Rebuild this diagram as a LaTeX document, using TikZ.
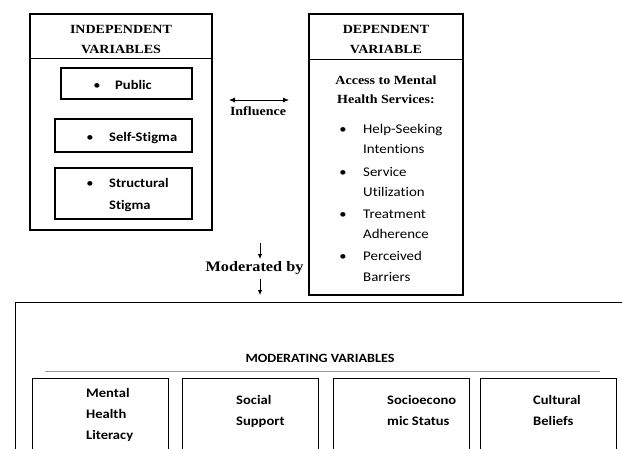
\documentclass[tikz,border=0pt]{standalone}
\usepackage{fontspec}
\setmainfont{Liberation Serif}
\newfontfamily\tmsb[FakeStretch=1.12]{Liberation Serif Bold}
\newfontfamily\calb[FakeStretch=1.12, RawFeature=-liga]{Carlito Bold}
\newfontfamily\calr[FakeStretch=1.12, RawFeature=-liga]{Carlito}
\usetikzlibrary{arrows.meta}
\begin{document}
\begin{tikzpicture}[x=1pt,y=-1pt,
  box/.style={draw=black, line width=1.1pt, inner sep=0pt, rectangle},
  hd/.style={font=\tmsb\fontsize{12.5}{14}\selectfont, inner sep=0pt, anchor=base},
  bigt/.style={font=\tmsb\fontsize{14.5}{16}\selectfont, inner sep=0pt, anchor=base},
  cb/.style={font=\calb\fontsize{13}{15}\selectfont, inner sep=0pt, anchor=base west},
  cr/.style={font=\calr\fontsize{13.3}{15}\selectfont, inner sep=0pt, anchor=base west},
  mb/.style={font=\calb\fontsize{13}{15}\selectfont, inner sep=0pt, anchor=base west},
  bul/.style={font=\calr\fontsize{13}{15}\selectfont, inner sep=0pt, anchor=base},
  conn/.style={line width=0.8pt, -{Latex[length=5pt,width=4.5pt]}},
  biconn/.style={line width=0.8pt, {Latex[length=6pt,width=5pt]}-{Latex[length=6pt,width=5pt]}}
]
\useasboundingbox (0,0) rectangle (622,448);
\clip (0,0) rectangle (622,448);

% Independent variables
\node[box, minimum width=182pt, minimum height=216pt] (indep) at (121,122) {};
\coordinate (ihl) at (30,58);
\coordinate (ihr) at (212,58);
\draw[line width=0.6pt] (ihl) -- (ihr);
\node[hd] (indt1) at (121,33.5) {INDEPENDENT};
\node[hd] (indt2) at (121,53.5) {VARIABLES};

\node[box, minimum width=131pt, minimum height=31pt] (pub) at (126.5,83.5) {};
\node[bul] (pubb) at (97,89) {•};
\node[cb] (pubt) at (115,89) {Public};

\node[box, minimum width=137pt, minimum height=33pt] (self) at (123.5,135.5) {};
\node[bul] (selfb) at (90,141) {•};
\node[cb] (selft) at (109,141) {Self-Stigma};

\node[box, minimum width=137pt, minimum height=51pt] (struc) at (123.5,193.5) {};
\node[bul] (strucb) at (90,187) {•};
\node[cb] (struct1) at (109,187) {Structural};
\node[cb] (struct2) at (109,209) {Stigma};

% Influence
\coordinate (ia) at (229,100);
\coordinate (ib) at (289,100);
\draw[biconn] (ia) -- (ib);
\node[hd] (infl) at (258,115) {Influence};

% Dependent variable
\node[box, minimum width=154pt, minimum height=281pt] (dep) at (386,154.5) {};
\coordinate (dhl) at (309,59);
\coordinate (dhr) at (463,59);
\draw[line width=0.6pt] (dhl) -- (dhr);
\node[hd] (dept1) at (386,33.5) {DEPENDENT};
\node[hd] (dept2) at (386,53.5) {VARIABLE};
\node[hd] (acc1) at (386,84) {Access to Mental};
\node[hd] (acc2) at (386,103) {Health Services:};

\node[bul] (d1b) at (343,133) {•};
\node[cr] (d1a) at (363,133) {Help-Seeking};
\node[cr] (d1c) at (363,153) {Intentions};
\node[bul] (d2b) at (343,176) {•};
\node[cr] (d2a) at (363,176) {Service};
\node[cr] (d2c) at (363,196) {Utilization};
\node[bul] (d3b) at (343,218) {•};
\node[cr] (d3a) at (363,218) {Treatment};
\node[cr] (d3c) at (363,238) {Adherence};
\node[bul] (d4b) at (343,260) {•};
\node[cr] (d4a) at (363,260) {Perceived};
\node[cr] (d4c) at (363,281) {Barriers};

% Moderated by
\node[bigt] (modby) at (254.5,271) {Moderated by};
\coordinate (a1s) at (260,243);
\coordinate (a1e) at (260,259);
\coordinate (a2s) at (260,279);
\coordinate (a2e) at (260,295);
\draw[conn] (a1s) -- (a1e);
\draw[conn] (a2s) -- (a2e);

% Moderating variables
\node[box, minimum width=640pt, minimum height=170pt, anchor=north west] (modbox) at (15,302) {};
\node[font=\calb\fontsize{12.6}{14}\selectfont, inner sep=0pt, anchor=base] (modt) at (320,362) {MODERATING VARIABLES};
\coordinate (rl) at (45,371);
\coordinate (rr) at (600,371);
\draw[draw=gray!80, line width=0.8pt] (rl) -- (rr);

\node[box, minimum width=136pt, minimum height=100pt, anchor=north west] (m1) at (32,378) {};
\node[box, minimum width=136pt, minimum height=100pt, anchor=north west] (m2) at (182,378) {};
\node[box, minimum width=136pt, minimum height=100pt, anchor=north west] (m3) at (333,378) {};
\node[box, minimum width=136pt, minimum height=100pt, anchor=north west] (m4) at (480,378) {};

\node[mb] (m1a) at (86,397) {Mental};
\node[mb] (m1b) at (86,418) {Health};
\node[mb] (m1c) at (86,439) {Literacy};
\node[mb] (m2a) at (236,404) {Social};
\node[mb] (m2b) at (236,425) {Support};
\node[mb] (m3a) at (387,404) {Socioecono};
\node[mb] (m3b) at (387,425) {mic Status};
\node[mb] (m4a) at (533,404) {Cultural};
\node[mb] (m4b) at (533,425) {Beliefs};
\end{tikzpicture}
\end{document}
